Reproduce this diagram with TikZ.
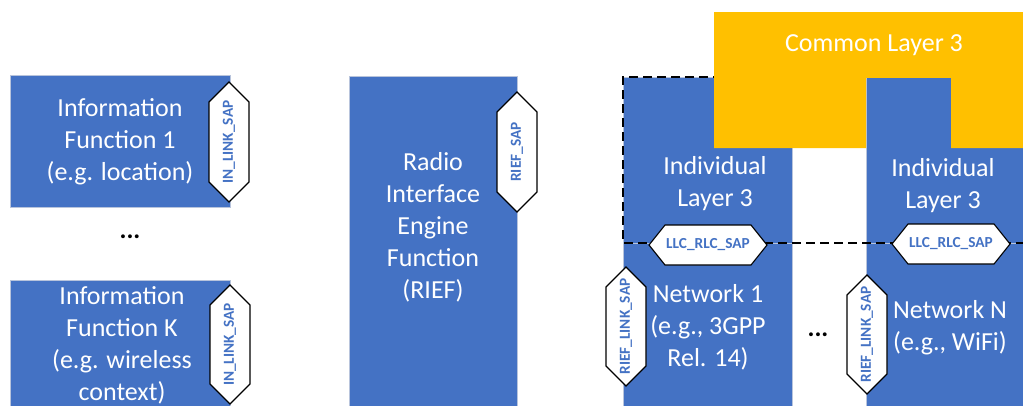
\documentclass[tikz,border=0pt]{standalone}
\usepackage{fontspec}
\setmainfont{Carlito}
\definecolor{blu}{HTML}{4472C4}
\definecolor{yel}{HTML}{FFC000}
\definecolor{edge}{HTML}{B8C4DC}
\tikzset{
  bluebox/.style={fill=blu, draw=edge, line width=0.8pt},
  yelbox/.style={fill=yel, draw=none},
  hexbox/.style={fill=white, draw=black, line width=1.1pt, line join=miter},
  bigtxt/.style={text=white, align=center, font=\fontsize{26}{32}\selectfont, inner sep=0pt},
  saptxt/.style={text=blu, font=\bfseries\fontsize{15.3}{17}\selectfont, inner sep=0pt},
  dots/.style={text=black, font=\bfseries\fontsize{26}{32}\selectfont, inner sep=0pt},
  dashline/.style={draw=black, dashed, dash pattern=on 9pt off 5pt, line width=1.4pt}
}
% vertical hexagon: name, cx, cy, half-height, text
\newcommand{\vhexa}[5]{%
  \draw[hexbox] (#2,#3-#4) -- (#2+20,#3-#4+20) -- (#2+20,#3+#4-20) -- (#2,#3+#4)
     -- (#2-20,#3+#4-20) -- (#2-20,#3-#4+20) -- cycle;
  \node[saptxt, rotate=90] (#1) at (#2,#3) {#5};}
% horizontal hexagon: name, cx, cy, text
\newcommand{\hhexa}[4]{%
  \draw[hexbox] (#2-59,#3) -- (#2-43,#3-20) -- (#2+43,#3-20) -- (#2+59,#3)
     -- (#2+43,#3+20) -- (#2-43,#3+20) -- cycle;
  \node[saptxt] (#1) at (#2,#3) {#4};}
\begin{document}
\begin{tikzpicture}[x=1pt,y=-1pt]
\useasboundingbox (0,0) rectangle (1023,405);
% blue boxes
\draw[bluebox] (10,75) rectangle (230,207);
\draw[bluebox] (10,280) rectangle (230,420);
\draw[bluebox] (349,76) rectangle (517,420);
\draw[bluebox] (623,77) rectangle (792,243);
\draw[bluebox] (623,243) rectangle (792,420);
\draw[bluebox] (866,77) rectangle (1030,243);
\draw[bluebox] (866,243) rectangle (1030,420);
% dashed group
\draw[dashline] (1030,77) -- (623,77) -- (623,243) -- (1030,243);
% common layer 3
\fill[yelbox] (714,12) -- (1030,12) -- (1030,148) -- (951,148) -- (951,77.8)
   -- (866,77.8) -- (866,148) -- (714,148) -- cycle;
\node[bigtxt] (cl3) at (874,45) {Common Layer 3};
% texts
\node[bigtxt] (if1) at (120,142) {Information\\Function 1\\(e.g. location)};
\node[bigtxt] (ifk) at (122,345) {Information\\Function K\\(e.g. wireless\\context)};
\node[dots] (d1) at (130,237) {...};
\node[bigtxt] (rief) at (433,227) {Radio\\Interface\\Engine\\Function\\(RIEF)};
\node[bigtxt] (il1) at (715,184) {Individual\\Layer 3};
\node[bigtxt] (il2) at (943,186) {Individual\\Layer 3};
\node[bigtxt] (n1) at (708,327) {Network 1\\(e.g., 3GPP\\Rel. 14)};
\node[bigtxt] (nn) at (950,328) {Network N\\(e.g., WiFi)};
\node[dots] (d2) at (818,335) {...};
% SAP hexagons
\vhexa{s1}{229}{142}{60}{IN\_LINK\_SAP}
\vhexa{s2}{230}{344.5}{59.5}{IN\_LINK\_SAP}
\vhexa{s3}{517}{152}{60}{RIEF\_SAP}
\vhexa{s4}{626}{326.5}{59.5}{RIEF\_LINK\_SAP}
\vhexa{s5}{867}{334.5}{59.5}{RIEF\_LINK\_SAP}
\hhexa{s6}{708}{245}{LLC\_RLC\_SAP}
\hhexa{s7}{951}{244}{LLC\_RLC\_SAP}
\end{tikzpicture}
\end{document}
